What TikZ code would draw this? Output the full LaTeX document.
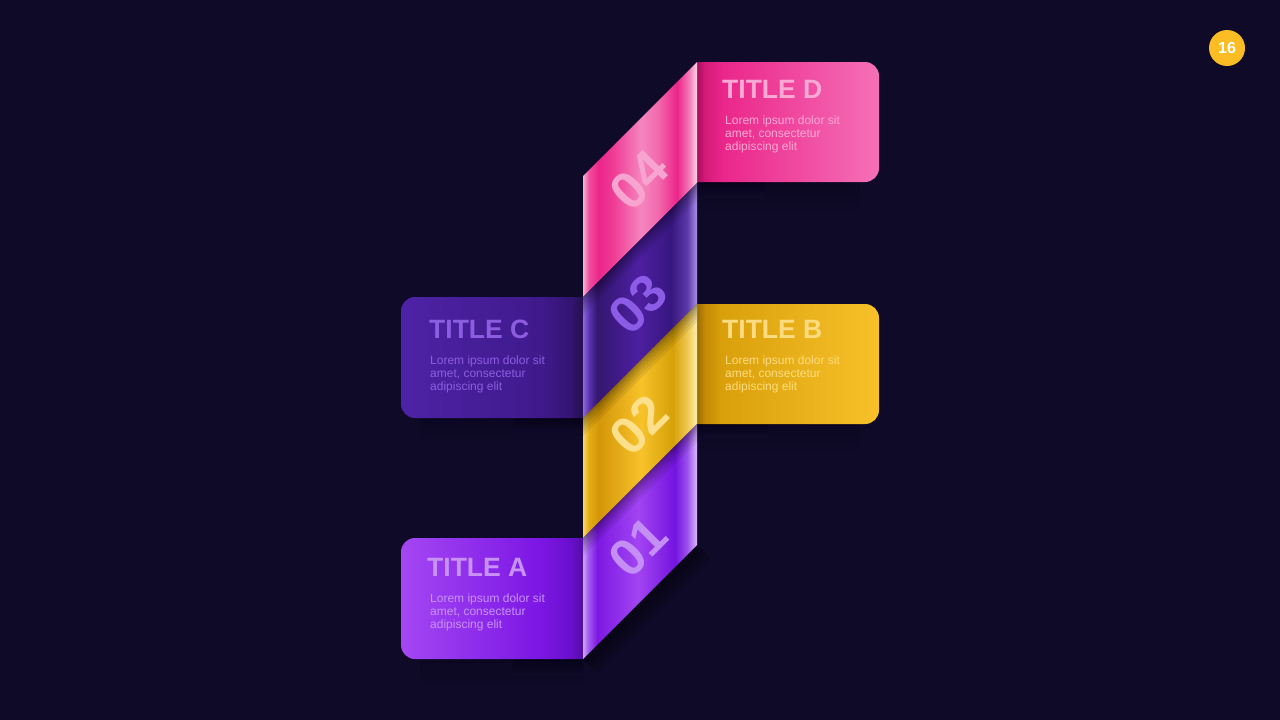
\documentclass[tikz,border=0pt]{standalone}
\usepackage{fontspec}
\setmainfont{Liberation Sans}
\definecolor{bg}{HTML}{0F0A28}
\definecolor{shdA}{HTML}{06031A}
\definecolor{shdB}{HTML}{0B0721}
\definecolor{badge}{HTML}{FBBD23}
% ribbon 04 pink
\definecolor{pD0}{HTML}{F9B0D4}\definecolor{pD1}{HTML}{F04D9E}\definecolor{pD2}{HTML}{EC2589}
\definecolor{pD3}{HTML}{EF3C95}\definecolor{pD4}{HTML}{F585BF}\definecolor{pD5}{HTML}{F26AAE}
\definecolor{pD6}{HTML}{EC2589}\definecolor{pD7}{HTML}{F47AB7}\definecolor{pD8}{HTML}{FCD4E8}
% ribbon 03 purple
\definecolor{pC0}{HTML}{8F68DC}\definecolor{pC1}{HTML}{5A33B0}\definecolor{pC2}{HTML}{34166F}
\definecolor{pC3}{HTML}{4C1FA0}\definecolor{pC4}{HTML}{381780}\definecolor{pC5}{HTML}{5A38A8}
\definecolor{pC6}{HTML}{AB8FE6}
% ribbon 02 yellow
\definecolor{pB0}{HTML}{F9D56A}\definecolor{pB1}{HTML}{E4AC12}\definecolor{pB2}{HTML}{D39608}
\definecolor{pB3}{HTML}{F8C22B}\definecolor{pB4}{HTML}{D6A008}\definecolor{pB5}{HTML}{F0C850}
\definecolor{pB6}{HTML}{FEEEB0}
% ribbon 01 violet
\definecolor{pA0}{HTML}{CFA6F6}\definecolor{pA1}{HTML}{A45EF0}\definecolor{pA2}{HTML}{7D18E2}
\definecolor{pA3}{HTML}{A244F2}\definecolor{pA4}{HTML}{7414E0}\definecolor{pA5}{HTML}{9A50EC}
\definecolor{pA6}{HTML}{DCB8FB}
% boxes
\definecolor{bD0}{HTML}{A80F5C}\definecolor{bD1}{HTML}{D41A78}\definecolor{bD2}{HTML}{EA268A}\definecolor{bD3}{HTML}{F670B7}
\definecolor{bB0}{HTML}{9C6C04}\definecolor{bB1}{HTML}{C48A06}\definecolor{bB2}{HTML}{D9A00B}\definecolor{bB3}{HTML}{F8C12A}
\definecolor{bC0}{HTML}{4E22A6}\definecolor{bC1}{HTML}{3F1A8C}\definecolor{bC2}{HTML}{341473}\definecolor{bC3}{HTML}{24104F}
\definecolor{bA0}{HTML}{A447F3}\definecolor{bA1}{HTML}{7C16E4}\definecolor{bA2}{HTML}{6A0FCC}\definecolor{bA3}{HTML}{520CA8}
% texts
\definecolor{tD}{HTML}{F9A9D3}\definecolor{tC}{HTML}{8C5DE0}\definecolor{tB}{HTML}{FDDB80}\definecolor{tA}{HTML}{C891F7}
\definecolor{nD}{HTML}{F7A5D0}\definecolor{nC}{HTML}{8D5CE6}\definecolor{nB}{HTML}{FEDF8C}\definecolor{nA}{HTML}{C58EF6}

\pgfdeclarehorizontalshading{ribD}{100bp}{color(0bp)=(pD0); color(25bp)=(pD0); color(27.63bp)=(pD1); color(32.02bp)=(pD2); color(38.16bp)=(pD3); color(50.44bp)=(pD4); color(57.89bp)=(pD5); color(66.23bp)=(pD6); color(71.49bp)=(pD7); color(75bp)=(pD8); color(100bp)=(pD8)}
\pgfdeclarehorizontalshading{ribC}{100bp}{color(0bp)=(pC0); color(25bp)=(pC0); color(27.63bp)=(pC1); color(31.14bp)=(pC2); color(49.12bp)=(pC3); color(63.6bp)=(pC4); color(70.61bp)=(pC5); color(75bp)=(pC6); color(100bp)=(pC6)}
\pgfdeclarehorizontalshading{ribB}{100bp}{color(0bp)=(pB0); color(25bp)=(pB0); color(27.63bp)=(pB1); color(32.02bp)=(pB2); color(50.44bp)=(pB3); color(64.47bp)=(pB4); color(70.61bp)=(pB5); color(75bp)=(pB6); color(100bp)=(pB6)}
\pgfdeclarehorizontalshading{ribA}{100bp}{color(0bp)=(pA0); color(25bp)=(pA0); color(27.19bp)=(pA1); color(31.14bp)=(pA2); color(49.12bp)=(pA3); color(65.35bp)=(pA4); color(70.61bp)=(pA5); color(75bp)=(pA6); color(100bp)=(pA6)}
\pgfdeclarehorizontalshading{boxD}{100bp}{color(0bp)=(bD0); color(28.57bp)=(bD0); color(30.61bp)=(bD1); color(34.95bp)=(bD2); color(75bp)=(bD3); color(100bp)=(bD3)}
\pgfdeclarehorizontalshading{boxB}{100bp}{color(0bp)=(bB0); color(28.57bp)=(bB0); color(30.61bp)=(bB1); color(34.95bp)=(bB2); color(75bp)=(bB3); color(100bp)=(bB3)}
\pgfdeclarehorizontalshading{boxC}{100bp}{color(0bp)=(bC0); color(25bp)=(bC0); color(60.46bp)=(bC1); color(68.11bp)=(bC2); color(71.43bp)=(bC3); color(100bp)=(bC3)}
\pgfdeclarehorizontalshading{boxA}{100bp}{color(0bp)=(bA0); color(25bp)=(bA0); color(60.46bp)=(bA1); color(68.11bp)=(bA2); color(71.43bp)=(bA3); color(100bp)=(bA3)}

\begin{document}
\begin{tikzpicture}[x=1pt,y=-1pt,
  title/.style={anchor=base west, inner sep=0pt, font=\fontsize{26.5}{26.5}\selectfont\bfseries},
  body/.style={anchor=north west, inner sep=0pt, align=left, font=\fontsize{12}{13}\selectfont},
  num/.style={rotate=45, inner sep=0pt, font=\fontsize{52}{52}\selectfont\bfseries},
  segshadow/.style={fill=black, opacity=0.07}]
\fill[bg] (0,0) rectangle (1280,720);
\useasboundingbox (0,0) rectangle (1280,720);

% soft shadows below the boxes
\shade[top color=shdB, bottom color=bg] (697,182) rectangle (860,215);
\shade[top color=shdA, bottom color=bg] (697,182) rectangle (765,198);
\shade[top color=shdB, bottom color=bg] (697,424) rectangle (860,455);
\shade[top color=shdA, bottom color=bg] (697,424) rectangle (768,438);
\shade[top color=shdB, bottom color=bg] (420,418) rectangle (583,445);
\shade[top color=shdA, bottom color=bg] (513,418) rectangle (583,432);
\shade[top color=shdB, bottom color=bg] (420,659) rectangle (583,690);
\shade[top color=shdA, bottom color=bg] (513,659) rectangle (583,675);
% shadow of the ribbon's lower fold
\foreach \d in {3,6,9,12,15}
  \fill[black, opacity=0.09] (583,659) -- (697,545) -- (697+\d,545+\d) -- (583+\d,659+\d) -- cycle;

% boxes
\begin{scope}
  \clip (697,0) rectangle (1000,720);
  \shade[shading=boxD, rounded corners=14pt] (683,62) rectangle (879,182);
  \shade[shading=boxB, rounded corners=14pt] (683,304) rectangle (879,424);
\end{scope}
\begin{scope}
  \clip (300,0) rectangle (583,720);
  \shade[shading=boxC, rounded corners=14pt] (401,297) rectangle (597,418);
  \shade[shading=boxA, rounded corners=14pt] (401,538) rectangle (597,659);
\end{scope}

% ribbon segments
\shade[shading=ribD] (583,176) -- (697,62) -- (697,183) -- (583,297) -- cycle;
\begin{scope}
  \clip (583,297) -- (697,183) -- (697,304) -- (583,418) -- cycle;
  \shade[shading=ribC] (583,297) -- (697,183) -- (697,304) -- (583,418) -- cycle;
  \foreach \t in {2,4,7,10,14,18}
    \fill[segshadow] (583,297) -- (697,183) -- (697,183+\t) -- (583,297+\t) -- cycle;
\end{scope}
\begin{scope}
  \clip (583,418) -- (697,304) -- (697,424) -- (583,538) -- cycle;
  \shade[shading=ribB] (583,418) -- (697,304) -- (697,424) -- (583,538) -- cycle;
  \foreach \t in {2,4,7,10,14,18}
    \fill[segshadow] (583,418) -- (697,304) -- (697,304+\t) -- (583,418+\t) -- cycle;
\end{scope}
\begin{scope}
  \clip (583,538) -- (697,424) -- (697,545) -- (583,659) -- cycle;
  \shade[shading=ribA] (583,538) -- (697,424) -- (697,545) -- (583,659) -- cycle;
  \foreach \t in {2,4,7,10,14,18}
    \fill[segshadow] (583,538) -- (697,424) -- (697,424+\t) -- (583,538+\t) -- cycle;
\end{scope}

% numbers
\node[num, text=nD] (n4) at (639,180) {04};
\node[num, text=nC] (n3) at (638,304) {03};
\node[num, text=nB] (n2) at (639,425) {02};
\node[num, text=nA] (n1) at (638,547) {01};

% titles and texts
\node[title, text=tD] (tD) at (722,98) {TITLE D};
\node[body, text=tD] (bD) at (725,116) {Lorem ipsum dolor sit\\amet, consectetur\\adipiscing elit};
\node[title, text=tC] (tC) at (429,338) {TITLE C};
\node[body, text=tC] (bC) at (430,356) {Lorem ipsum dolor sit\\amet, consectetur\\adipiscing elit};
\node[title, text=tB] (tB) at (722,338) {TITLE B};
\node[body, text=tB] (bB) at (725,356) {Lorem ipsum dolor sit\\amet, consectetur\\adipiscing elit};
\node[title, text=tA] (tA) at (427,576) {TITLE A};
\node[body, text=tA] (bA) at (430,594) {Lorem ipsum dolor sit\\amet, consectetur\\adipiscing elit};

% page badge
\node[circle, fill=badge, minimum size=36pt, inner sep=0pt, text=white, font=\fontsize{16}{16}\selectfont\bfseries] (badge) at (1227,48) {16};
\end{tikzpicture}
\end{document}
